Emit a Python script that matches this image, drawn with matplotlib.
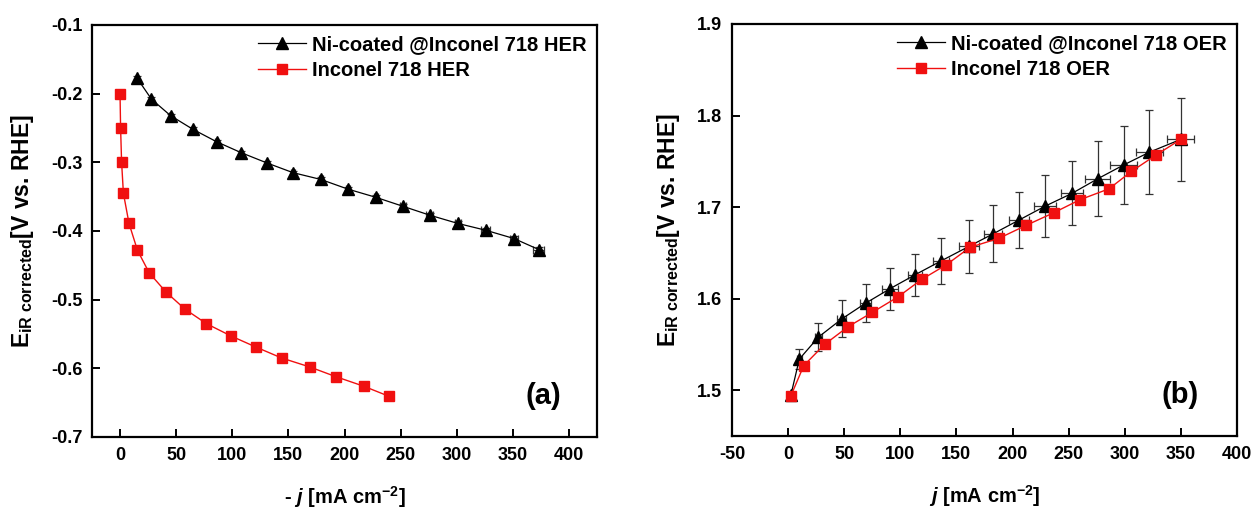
import numpy as np
import matplotlib
matplotlib.use('Agg')
from matplotlib import pyplot as plt

plt.rcParams['font.family'] = ['Liberation Sans', 'DejaVu Sans']
plt.rcParams['font.weight'] = 'bold'
plt.rcParams['axes.labelweight'] = 'bold'
plt.rcParams['axes.unicode_minus'] = False
plt.rcParams['mathtext.fontset'] = 'custom'
plt.rcParams['mathtext.rm'] = 'Liberation Sans:bold'
plt.rcParams['mathtext.bf'] = 'Liberation Sans:bold'
plt.rcParams['mathtext.it'] = 'Liberation Sans:bold:italic'

# (a) HER
her_ni_j = [15, 28, 45, 65, 86, 108, 131, 154, 179, 203, 228, 252, 276, 301, 326, 351, 373]
her_ni_E = [-0.177, -0.208, -0.232, -0.252, -0.270, -0.286, -0.301, -0.315, -0.325,
            -0.339, -0.351, -0.364, -0.377, -0.389, -0.399, -0.411, -0.427]
her_ni_jerr = [0.5, 0.5, 1, 1, 1, 1, 1, 1.5, 1.5, 2, 2, 2.5, 3, 3, 4, 4, 5]
her_ni_Eerr = [0.003] * 17

her_in_j = [0, 0.5, 1.4, 3, 8, 15.5, 26, 41, 58, 77, 99, 121, 144, 169, 192, 217, 240]
her_in_E = [-0.200, -0.250, -0.300, -0.345, -0.389, -0.428, -0.461, -0.489, -0.514,
            -0.535, -0.553, -0.569, -0.585, -0.598, -0.612, -0.626, -0.641]

# (b) OER
oer_ni_j = [2.5, 10, 27, 48, 69, 91, 113, 136, 161, 183, 206, 229, 253, 276, 299, 322, 350]
oer_ni_E = [1.495, 1.534, 1.558, 1.578, 1.595, 1.611, 1.626, 1.641, 1.657, 1.671,
            1.686, 1.701, 1.715, 1.731, 1.746, 1.760, 1.774]
oer_ni_jerr = [1, 2, 3, 4, 5, 7, 6, 7, 9, 8, 9, 10, 10, 11, 12, 12, 12]
oer_ni_Eerr = [0.003, 0.011, 0.015, 0.020, 0.021, 0.023, 0.023, 0.025, 0.029, 0.031,
               0.031, 0.034, 0.035, 0.041, 0.043, 0.046, 0.045]

oer_in_j = [2.5, 14, 32.5, 53, 75, 98, 119, 141, 162, 188, 212, 237, 260, 286, 306, 328, 350]
oer_in_E = [1.494, 1.527, 1.550, 1.569, 1.585, 1.602, 1.621, 1.637, 1.656, 1.666,
            1.680, 1.694, 1.708, 1.720, 1.739, 1.757, 1.774]

fig = plt.figure(figsize=(12.53, 5.09), dpi=100)
ax1 = fig.add_axes([0.0734, 0.1415, 0.4031, 0.8094])
ax2 = fig.add_axes([0.5842, 0.1434, 0.4030, 0.8095])

ylab = r'E$_{\mathbf{iR\ corrected}}$[V vs. RHE]'

def draw(ax, nj, nE, njerr, nEerr, ij, iE, lab_ni, lab_in):
    ax.errorbar(nj, nE, xerr=njerr, yerr=nEerr, fmt='none', ecolor='#333333',
                elinewidth=0.9, capsize=3, capthick=0.9)
    ax.plot(nj, nE, color='black', marker='^', markersize=8, lw=0.9, label=lab_ni)
    ax.plot(ij, iE, color='#f01010', marker='s', markersize=7, lw=1.0, label=lab_in)

# panel a
draw(ax1, her_ni_j, her_ni_E, her_ni_jerr, her_ni_Eerr, her_in_j, her_in_E,
     'Ni-coated @Inconel 718 HER', 'Inconel 718 HER')
ax1.set_xlim(-25, 425)
ax1.set_ylim(-0.7, -0.1)
ax1.set_xticks(np.arange(0, 401, 50))
ax1.set_yticks(np.arange(-0.7, -0.09, 0.1))
ax1.set_yticklabels(['-0.7', '-0.6', '-0.5', '-0.4', '-0.3', '-0.2', '-0.1'])
ax1.set_xlabel(r'- $\mathit{j}$ [mA cm$^{\mathbf{-2}}$]', fontsize=14.5, labelpad=15)
ax1.set_ylabel(ylab, fontsize=16.5, labelpad=11)
ax1.text(0.893, 0.10, '(a)', transform=ax1.transAxes, fontsize=21,
         ha='center', va='center')

# panel b
draw(ax2, oer_ni_j, oer_ni_E, oer_ni_jerr, oer_ni_Eerr, oer_in_j, oer_in_E,
     'Ni-coated @Inconel 718 OER', 'Inconel 718 OER')
ax2.set_xlim(-50, 400)
ax2.set_ylim(1.45, 1.9)
ax2.set_xticks(np.arange(-50, 401, 50))
ax2.set_yticks([1.5, 1.6, 1.7, 1.8, 1.9])
ax2.set_xlabel(r'$\mathit{j}$ [mA cm$^{\mathbf{-2}}$]', fontsize=14.5, labelpad=15)
ax2.set_ylabel(ylab, fontsize=16.5, labelpad=11)
ax2.text(0.887, 0.10, '(b)', transform=ax2.transAxes, fontsize=21,
         ha='center', va='center')

for ax in (ax1, ax2):
    for s in ax.spines.values():
        s.set_linewidth(1.6)
    ax.tick_params(direction='in', length=6, width=1.4, labelsize=13, pad=7)
    ax.legend(loc='upper right', frameon=False, fontsize=14.5, handlelength=2.4,
              handletextpad=0.3, labelspacing=0.35, borderaxespad=0.2,
              borderpad=0.3)

fig.savefig('out.png', dpi=100)
